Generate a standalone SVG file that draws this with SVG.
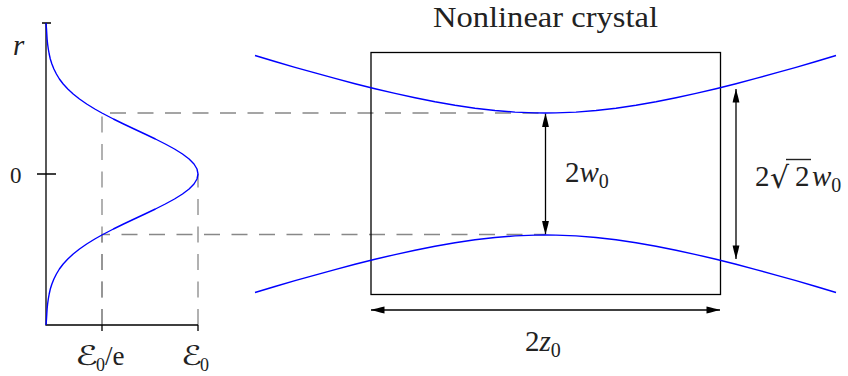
<svg xmlns="http://www.w3.org/2000/svg" width="848" height="376" viewBox="0 0 848 376">
<defs>
<style>
.ax{stroke:#000;stroke-width:1.3;fill:none}
.beam{stroke:#0000ff;stroke-width:1.4;fill:none;stroke-linejoin:round}
.dash{stroke:#888;stroke-width:1.3;stroke-dasharray:16 11.5;fill:none}
.dim{stroke:#000;stroke-width:1.3;fill:none;marker-start:url(#ah);marker-end:url(#ah)}
.t{font-family:"Liberation Serif","DejaVu Serif",serif;fill:#222}
.i{font-style:italic}
.se{font-family:"DejaVu Sans","DejaVu Serif",serif;font-style:italic}
.rad{font-family:"DejaVu Sans",sans-serif}
</style>
<marker id="ah" viewBox="-14 -4 14 8" refX="0" refY="0" markerWidth="14" markerHeight="8" markerUnits="userSpaceOnUse" orient="auto-start-reverse">
<path d="M0,0 C-4,-1 -9,-2.6 -13.5,-3.4 L-13.5,3.4 C-9,2.6 -4,1 0,0 Z" fill="#000"/>
</marker>
</defs>
<rect width="848" height="376" fill="#fff"/>

<g id="connectors">
<path class="dash" d="M102,325 V113 H545"/>
<path class="dash" d="M102,325 V234.5 H545"/>
<path class="dash" d="M198,325 V174"/>
<line class="dim" x1="545.5" y1="113.5" x2="545.5" y2="234.5"/>
<line class="dim" x1="736" y1="89" x2="736" y2="259"/>
<line class="dim" x1="371" y1="310" x2="720" y2="310"/>
</g>

<g id="axes">
<path class="ax" d="M46,23 V325 H198"/>
<path class="ax" d="M42,23 H51 M37,174 H56 M102,325 V331 M198,325 V331"/>
</g>

<g id="gaussian">
<path class="beam" d="M46,23 L46.5,29 L46.8,34 L47.1,39 L47.6,44 L48.3,49 L49.2,54 L50.3,59 L51.9,64 L53.9,69 L56.4,74 L59.4,79 L63.2,84 L67.8,89 L73.2,94 L79.5,99 L86.7,104 L94.8,109 L101.9,113 L113.4,119 L123.6,124 L134.2,129 L144.9,134 L155.4,139 L165.3,144 L174.5,149 L182.5,154 L189.1,159 L194,164 L197,169 L198,174 L197,179 L194,184 L189.1,189 L182.5,194 L174.5,199 L165.3,204 L155.4,209 L144.9,214 L134.2,219 L123.6,224 L113.4,229 L101.9,235 L94.8,239 L86.7,244 L79.5,249 L73.2,254 L67.8,259 L63.2,264 L59.4,269 L56.4,274 L53.9,279 L51.9,284 L50.3,289 L49.2,294 L48.3,299 L47.6,304 L47.1,309 L46.8,314 L46.5,319 L46,325"/>
</g>

<g id="crystal">
<rect class="ax" x="371" y="52.5" width="349.5" height="242"/>
</g>

<g id="beam">
<path class="beam" d="M255,55.5 L275,61.5 L295,67.3 L315,72.9 L335,78.4 L355,83.7 L375,88.7 L395,93.4 L415,97.8 L435,101.8 L455,105.3 L475,108.2 L495,110.5 L515,112.1 L535,112.9 L545.5,113 L556,112.9 L576,112.1 L596,110.5 L616,108.2 L636,105.3 L656,101.8 L676,97.8 L696,93.4 L716,88.7 L736,83.7 L756,78.4 L776,72.9 L796,67.3 L816,61.5 L836,55.5"/>
<path class="beam" d="M255,292.5 L275,286.5 L295,280.7 L315,275.1 L335,269.6 L355,264.3 L375,259.3 L395,254.6 L415,250.2 L435,246.2 L455,242.7 L475,239.8 L495,237.5 L515,235.9 L535,235.1 L545.5,235 L556,235.1 L576,235.9 L596,237.5 L616,239.8 L636,242.7 L656,246.2 L676,250.2 L696,254.6 L716,259.3 L736,264.3 L756,269.6 L776,275.1 L796,280.7 L816,286.5 L836,292.5"/>
</g>

<g id="label-title">
<text class="t" x="433" y="27" font-size="29" textLength="225" lengthAdjust="spacingAndGlyphs">Nonlinear crystal</text>
</g>
<g id="label-r">
<text class="t i" x="13" y="55" font-size="29">r</text>
</g>
<g id="label-0">
<text class="t" x="10" y="183" font-size="23">0</text>
</g>
<g id="label-E0e">
<text class="t" y="365" font-size="27"><tspan class="se" x="75" font-size="27" textLength="23" lengthAdjust="spacingAndGlyphs">ℰ</tspan><tspan x="96" y="371" font-size="18">0</tspan><tspan x="105" y="365">/e</tspan></text>
</g>
<g id="label-E0">
<text class="t" y="365" font-size="25"><tspan class="se" x="181" font-size="27" textLength="21" lengthAdjust="spacingAndGlyphs">ℰ</tspan><tspan x="200" y="371" font-size="18">0</tspan></text>
</g>
<g id="label-2w0">
<text class="t" y="182" font-size="29"><tspan x="565">2</tspan><tspan class="i">w</tspan><tspan y="188" font-size="20">0</tspan></text>
</g>
<g id="label-2r2w0">
<text class="t" x="755" y="186" font-size="29">2</text>
<text class="rad" x="770" y="188" font-size="30" fill="#222">√</text>
<text class="t" y="186" font-size="29"><tspan x="795">2</tspan><tspan class="i" x="812">w</tspan><tspan y="192" font-size="20">0</tspan></text>
<line x1="786" y1="159.5" x2="811" y2="159.5" stroke="#222" stroke-width="1.4"/>
</g>
<g id="label-2z0">
<text class="t" y="351" font-size="29"><tspan x="525">2</tspan><tspan class="i">z</tspan><tspan y="357" font-size="20">0</tspan></text>
</g>
</svg>
